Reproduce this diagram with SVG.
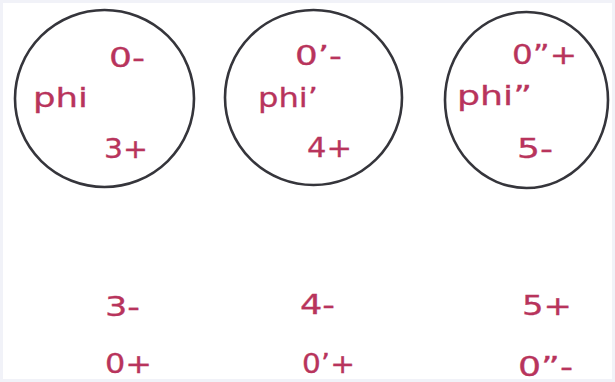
<svg xmlns="http://www.w3.org/2000/svg" width="615" height="382" viewBox="0 0 615 382">
  <style>
    .ring { fill: none; stroke: #35353b; stroke-width: 2.6; }
    .lbl { font-family: "DejaVu Sans", "Open Sans", sans-serif; font-size: 27px; fill: #b8345c; stroke: #b8345c; stroke-width: 0.3; }
  </style>
  <rect x="0" y="0" width="615" height="382" fill="#ffffff"/>
  <rect x="1.5" y="1.5" width="612" height="379" fill="none" stroke="#f1f2f8" stroke-width="3"/>

  <g id="node-phi">
    <ellipse class="ring" cx="104.5" cy="98.5" rx="89.5" ry="88.5"/>
    <text class="lbl" x="109" y="67" textLength="36" lengthAdjust="spacingAndGlyphs">0-</text>
    <text class="lbl" x="33" y="107" textLength="55" lengthAdjust="spacingAndGlyphs">phi</text>
    <text class="lbl" x="104" y="158" textLength="44" lengthAdjust="spacingAndGlyphs">3+</text>
  </g>

  <g id="node-phi1">
    <ellipse class="ring" cx="313.5" cy="97.5" rx="88.5" ry="87.5"/>
    <text class="lbl" x="295" y="65" textLength="47" lengthAdjust="spacingAndGlyphs">0’-</text>
    <text class="lbl" x="258" y="107" textLength="60" lengthAdjust="spacingAndGlyphs">phi’</text>
    <text class="lbl" x="307" y="157" textLength="45" lengthAdjust="spacingAndGlyphs">4+</text>
  </g>

  <g id="node-phi2">
    <ellipse class="ring" cx="526.5" cy="100" rx="81.5" ry="88"/>
    <text class="lbl" x="512" y="64" textLength="65" lengthAdjust="spacingAndGlyphs">0”+</text>
    <text class="lbl" x="457" y="105" textLength="75" lengthAdjust="spacingAndGlyphs">phi”</text>
    <text class="lbl" x="517" y="158" textLength="36" lengthAdjust="spacingAndGlyphs">5-</text>
  </g>

  <g id="col-1">
    <text class="lbl" x="105" y="316" textLength="35" lengthAdjust="spacingAndGlyphs">3-</text>
    <text class="lbl" x="105" y="373" textLength="47" lengthAdjust="spacingAndGlyphs">0+</text>
  </g>
  <g id="col-2">
    <text class="lbl" x="300" y="314" textLength="35" lengthAdjust="spacingAndGlyphs">4-</text>
    <text class="lbl" x="302" y="373" textLength="53" lengthAdjust="spacingAndGlyphs">0’+</text>
  </g>
  <g id="col-3">
    <text class="lbl" x="522" y="315" textLength="50" lengthAdjust="spacingAndGlyphs">5+</text>
    <text class="lbl" x="518" y="376" textLength="55" lengthAdjust="spacingAndGlyphs">0”-</text>
  </g>
</svg>
